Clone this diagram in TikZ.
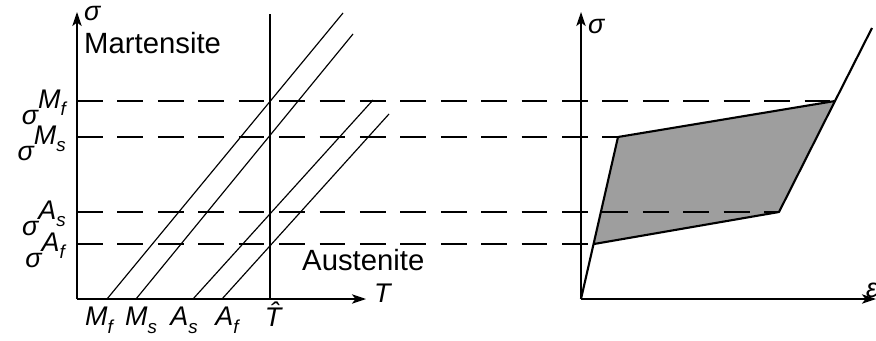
\documentclass[tikz,border=0pt]{standalone}
\usepackage{fontspec}
\setmainfont{Liberation Sans}
\usetikzlibrary{arrows.meta}

\newcommand{\biglbl}{\fontsize{25}{28}\selectfont}
\newcommand{\axlbl}{\fontsize{23}{25}\selectfont\itshape}
\newcommand{\sublbl}{\fontsize{16}{18}\selectfont\itshape}
\newcommand{\sigup}[2]{σ\raisebox{0.6em}{#1\raisebox{-0.28em}{\sublbl #2}}}
\newcommand{\tsub}[2]{#1\raisebox{-0.28em}{\sublbl #2}}

\begin{document}
\begin{tikzpicture}[x=0.03cm, y=-0.03cm,
        axis/.style={line width=1.2pt, -{Stealth[length=12pt, width=8pt, inset=3pt]}},
        trans/.style={line width=1pt},
        level/.style={line width=1.1pt, dash pattern=on 22pt off 12.5pt},
        loop/.style={line width=1.8pt, line join=round},
        lbl/.style={inner sep=0pt, font=\axlbl},
        phase/.style={inner sep=0pt, font=\biglbl}
    ]
    \useasboundingbox (0,0) rectangle (876,341);

    % left: phase diagram
    \coordinate (O1) at (77,299);
    \coordinate (Y1) at (77,12);
    \coordinate (X1) at (366,299);
    \draw[axis] (O1) -- (Y1);
    \draw[axis] (O1) -- (X1);
    \node[lbl, anchor=west] (s1) at (84,14) {σ};
    \node[lbl, anchor=west] (T) at (374,293) {T};
    \node[phase, anchor=west] (mart) at (84,43) {Martensite};
    \node[phase, anchor=west] (aust) at (302,260) {Austenite};

    \coordinate (Tb) at (270,299);
    \coordinate (Tt) at (270,14);
    \draw[line width=2pt] (Tb) -- (Tt);

    \coordinate (Mf0) at (107,299); \coordinate (Mf1) at (343,13);
    \coordinate (Ms0) at (136,299); \coordinate (Ms1) at (353,34);
    \coordinate (As0) at (193,299); \coordinate (As1) at (373,100);
    \coordinate (Af0) at (222,299); \coordinate (Af1) at (389,114);
    \draw[trans] (Mf0) -- (Mf1);
    \draw[trans] (Ms0) -- (Ms1);
    \draw[trans] (As0) -- (As1);
    \draw[trans] (Af0) -- (Af1);

    \node[lbl, anchor=north] (lMf) at (99,307) {\tsub{M}{f}};
    \node[lbl, anchor=north] (lMs) at (141,307) {\tsub{M}{s}};
    \node[lbl, anchor=north] (lAs) at (184,307) {\tsub{A}{s}};
    \node[lbl, anchor=north] (lAf) at (227,307) {\tsub{A}{f}};
    \node[lbl, anchor=north] (lT) at (273,302) {\^{T}};

    \node[lbl, anchor=east] (sMf) at (66,107) {\sigup{M}{f}};
    \node[lbl, anchor=east] (sMs) at (66,143) {\sigup{M}{s}};
    \node[lbl, anchor=east] (sAs) at (66,218) {\sigup{A}{s}};
    \node[lbl, anchor=east] (sAf) at (65,250) {\sigup{A}{f}};

    % right: stress-strain loop
    \coordinate (O2) at (581,299);
    \coordinate (Y2) at (581,12);
    \coordinate (X2) at (876,299);
    \draw[axis] (O2) -- (Y2);
    \draw[axis] (O2) -- (X2);
    \node[lbl, anchor=west] (s2) at (588,27) {σ};
    \node[lbl, anchor=west] (eps) at (866,290) {ε};

    \coordinate (P1) at (594,244);
    \coordinate (P2) at (618,137);
    \coordinate (P3) at (835,101);
    \coordinate (P4) at (779,212);
    \coordinate (P5) at (872,28);
    \fill[black!38] (P1) -- (P2) -- (P3) -- (P4) -- cycle;
    \draw[loop] (O2) -- (P2) -- (P3) -- (P4) -- (P1);
    \draw[loop] (P3) -- (P5);

    % stress levels
    \coordinate (hMf) at (77,101);
    \coordinate (hMs) at (77,137);
    \coordinate (hAs) at (77,212);
    \coordinate (hAf) at (77,244);
    \draw[level] (hMf) -- (P3);
    \draw[level] (hMs) -- (P2);
    \draw[level] (hAs) -- (P4);
    \draw[level] (hAf) -- (P1);
\end{tikzpicture}
\end{document}
